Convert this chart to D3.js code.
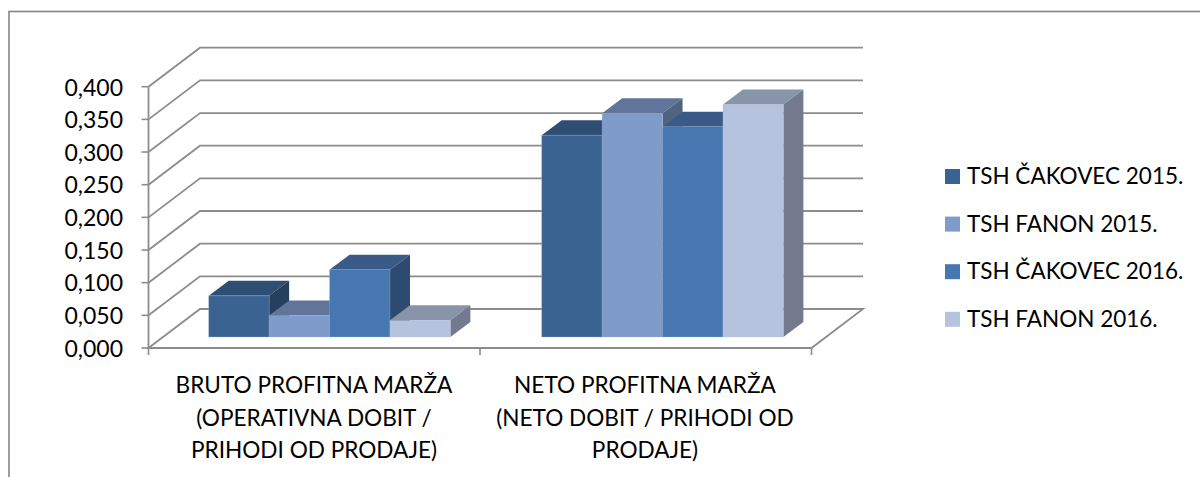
<!DOCTYPE html>
<html><head><meta charset="utf-8">
<script src="https://cdn.jsdelivr.net/npm/d3@7/dist/d3.min.js"></script>
<style>html,body{margin:0;padding:0;background:#fff}svg{display:block}text{font-family:Lato,"Open Sans",sans-serif;fill:#000}</style>
</head><body><svg width="1200" height="477"></svg>
<script>
const categories = [["BRUTO PROFITNA MARŽA","(OPERATIVNA DOBIT /","PRIHODI OD PRODAJE)"],["NETO PROFITNA MARŽA","(NETO DOBIT / PRIHODI OD","PRODAJE)"]];
const groupKeys = ["bruto","neto"];
const seriesNames = ["TSH ČAKOVEC 2015.","TSH FANON 2015.","TSH ČAKOVEC 2016.","TSH FANON 2016."];
const cak2015 = [0.063,0.309];
const fan2015 = [0.033,0.3425];
const cak2016 = [0.103,0.322];
const fan2016 = [0.0255,0.356];
const seriesValues = [cak2015,fan2015,cak2016,fan2016];
const yTicks = [0,0.05,0.1,0.15,0.2,0.25,0.3,0.35,0.4];
const frontColors = ["#3b6391","#7f9bca","#4677b1","#b6c3de"];
const topColors = ["#2e4e74","#61759a","#3a5b87","#8894aa"];
const sideColors = ["#263f5f","#51637f","#2d4a70","#747a8d"];

const svg = d3.select("svg");
const grid="#8c8c8c";
svg.append("rect").attr("x",9).attr("y",11.5).attr("width",1300).attr("height",600).attr("fill","none").attr("stroke","#868686").attr("stroke-width",1.6);

const y0=348,yT=86.7;
const y=d3.scaleLinear().domain([0,0.4]).range([y0,yT]);
const xL=148.5,xR=811.5, dx=51.5, dy=-39;
const x=d3.scaleBand().domain(groupKeys).range([xL,xR]);
const g=svg.append("g");
yTicks.forEach(t=>{
  if(t>0) g.append("path").attr("d",`M${xL},${y(t)}L${xL+dx},${y(t)+dy}L${xR+dx},${y(t)+dy}`).attr("fill","none").attr("stroke",grid).attr("stroke-width",1.8);
});
g.append("path").attr("d",`M${xL},${y0}L${xL+dx},${y0+dy}L${xR+dx},${y0+dy}L${xR},${y0}Z`).attr("fill","none").attr("stroke",grid).attr("stroke-width",1.8);
g.append("line").attr("x1",xL).attr("x2",xL).attr("y1",yT).attr("y2",y0).attr("stroke",grid).attr("stroke-width",1.8);
yTicks.forEach(t=>{
  g.append("line").attr("x1",xL-7).attr("x2",xL).attr("y1",y(t)).attr("y2",y(t)).attr("stroke",grid).attr("stroke-width",1.6);
  svg.append("text").attr("x",123).attr("y",y(t)+8.8).attr("text-anchor","end").attr("font-size",23).text(t.toFixed(3).replace(".",","));
});
[xL,xL+x.bandwidth(),xR].forEach(v=>g.append("line").attr("x1",v).attr("x2",v).attr("y1",y0).attr("y2",y0+7).attr("stroke",grid).attr("stroke-width",1.6));

const barBase=337, ddx=20, ddy=-15;
const barY=v=>barBase-(y0-y(v));
groupKeys.forEach((k,gi)=>{
  const start=x(k)+60.2+gi*1.5;
  const inner=d3.scaleBand().domain(d3.range(4)).range([start,start+241.7]);
  seriesValues.forEach((vals,si)=>{
    const v=vals[gi];
    const a=inner(si), b=a+inner.bandwidth(), t=barY(v);
    const bars=g.append("g");
    bars.append("path").attr("d",`M${a},${t}L${a+ddx},${t+ddy}L${b+ddx},${t+ddy}L${b},${t}Z`).attr("fill",topColors[si]);
    bars.append("path").attr("d",`M${b},${t}L${b+ddx},${t+ddy}L${b+ddx},${barBase+ddy}L${b},${barBase}Z`).attr("fill",sideColors[si]);
    bars.append("rect").attr("x",a).attr("y",t).attr("width",b-a).attr("height",barBase-t).attr("fill",frontColors[si]).attr("stroke","#a9bcd8").attr("stroke-opacity",.5).attr("stroke-width",.6);
  });
});
const catX=[314,645];
categories.forEach((lines,i)=>{
  lines.forEach((l,j)=>svg.append("text").attr("x",catX[i]).attr("y",393+j*32.5).attr("text-anchor","middle").attr("font-size",22.6).text(l));
});
seriesNames.forEach((n,i)=>{
  const ly=176.5+i*47.6;
  svg.append("rect").attr("x",945).attr("y",ly-7.5).attr("width",15).attr("height",15).attr("fill",frontColors[i]);
  svg.append("text").attr("x",967).attr("y",ly+7.5).attr("font-size",22.5).text(n);
});
</script></body></html>
